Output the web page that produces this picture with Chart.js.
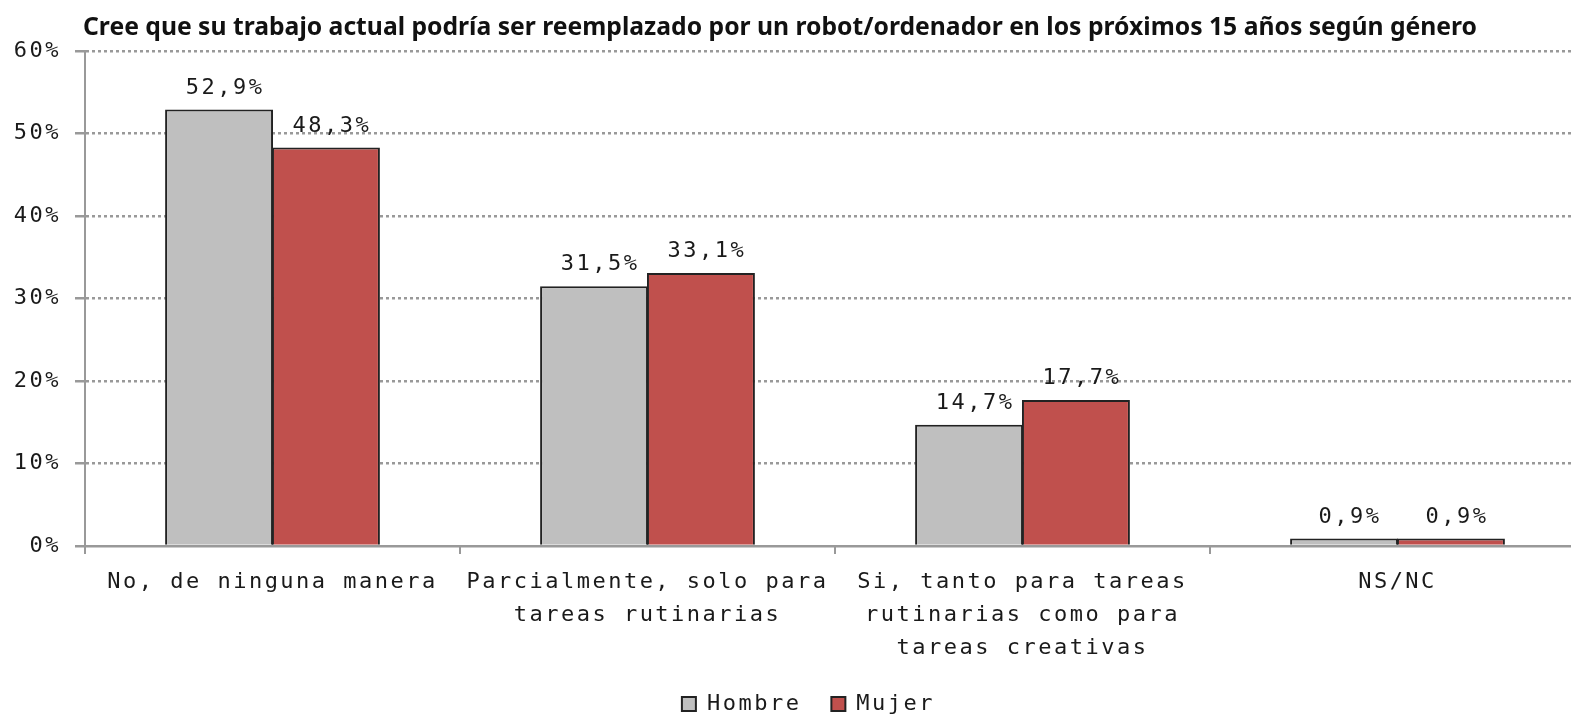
<!DOCTYPE html>
<html>
<head>
<meta charset="utf-8">
<script src="https://cdn.jsdelivr.net/npm/chart.js@4"></script>
<style>
  html, body { margin: 0; padding: 0; background: #fff; overflow: hidden; }
  #wrap { width: 1571px; height: 717px; overflow: hidden; }
</style>
</head>
<body>
<!-- el original esta recortado por la derecha: lienzo mas ancho que la ventana -->
<div id="wrap"><canvas id="grafico" width="1616" height="717"></canvas></div>
<script>
// datos
const titulo = 'Cree que su trabajo actual podría ser reemplazado por un robot/ordenador en los próximos 15 años según género';
const categorias = [
  ['No, de ninguna manera'],
  ['Parcialmente, solo para', 'tareas rutinarias'],
  ['Si, tanto para tareas', 'rutinarias como para', 'tareas creativas'],
  ['NS/NC']
];
const series = ['Hombre', 'Mujer'];
const hombre = [52.9, 31.5, 14.7, 0.9];
const mujer = [48.3, 33.1, 17.7, 0.9];
const ejeMax = 60;
const ejePaso = 10;

const mono = '"DejaVu Sans Mono", monospace';
const espaciado = '2.5px';

// el texto del original va muy espaciado
const espaciar = {
  id: 'espaciar',
  beforeUpdate(chart) { chart.ctx.letterSpacing = espaciado; },
  beforeLayout(chart) { chart.ctx.letterSpacing = espaciado; },
  beforeDraw(chart) { chart.ctx.letterSpacing = espaciado; },
  // la leyenda del original no va centrada en el lienzo
  afterLayout(chart) {
    if (chart.legend) {
      chart.legend.left += 16;
      chart.legend.right += 16;
    }
  }
};

const etiquetas = {
  id: 'etiquetas',
  afterDatasetsDraw(chart) {
    const ctx = chart.ctx;
    ctx.save();
    ctx.font = '22px ' + mono;
    ctx.fillStyle = '#1a1a1a';
    ctx.textAlign = 'center';
    ctx.textBaseline = 'alphabetic';
    chart.data.datasets.forEach((ds, i) => {
      chart.getDatasetMeta(i).data.forEach((bar, j) => {
        const txt = ds.data[j].toFixed(1).replace('.', ',') + '%';
        ctx.fillText(txt, bar.x + 6, bar.y - 16);
      });
    });
    ctx.restore();
  }
};

const tituloPlugin = {
  id: 'titulo',
  afterDraw(chart) {
    const ctx = chart.ctx;
    ctx.save();
    ctx.letterSpacing = '0px';
    ctx.font = 'bold 24.7px "Noto Sans"';
    ctx.fillStyle = '#111';
    ctx.textAlign = 'left';
    ctx.textBaseline = 'alphabetic';
    ctx.fillText(titulo, 83, 35);
    ctx.restore();
  }
};

new Chart(document.getElementById('grafico'), {
  type: 'bar',
  data: {
    labels: categorias,
    datasets: [
      {
        label: series[0],
        data: hombre,
        backgroundColor: '#bfbfbf',
        borderColor: '#222',
        borderWidth: 2,
        categoryPercentage: 0.57,
        barPercentage: 1.01
      },
      {
        label: series[1],
        data: mujer,
        backgroundColor: '#c0504d',
        borderColor: '#222',
        borderWidth: 2,
        categoryPercentage: 0.57,
        barPercentage: 1.01
      }
    ]
  },
  options: {
    responsive: false,
    animation: false,
    layout: { padding: { top: 51, right: 31, left: 0, bottom: -8 } },
    plugins: {
      title: { display: false },
      tooltip: { enabled: false },
      legend: {
        position: 'bottom',
        labels: {
          font: { family: mono, size: 22, lineHeight: 1 },
          color: '#1a1a1a',
          boxWidth: 14,
          boxHeight: 14,
          padding: 30
        }
      }
    },
    scales: {
      x: {
        grid: {
          offset: true,
          drawOnChartArea: false,
          color: '#999',
          lineWidth: 2,
          tickLength: 8
        },
        border: { color: '#999', width: 2 },
        ticks: {
          font: { family: mono, size: 22, lineHeight: 1.5 },
          color: '#1a1a1a',
          padding: 12,
          maxRotation: 0,
          autoSkip: false
        },
        afterFit(scale) { scale.height = 117; }
      },
      y: {
        min: 0,
        max: ejeMax,
        ticks: {
          stepSize: ejePaso,
          font: { family: mono, size: 22 },
          color: '#1a1a1a',
          padding: 14,
          callback: v => v + '%'
        },
        grid: {
          color: '#999',
          lineWidth: 2.5,
          tickLength: 10,
          tickBorderDash: [],
          tickColor: '#999'
        },
        border: {
          color: '#999',
          width: 2,
          dash: ctx => (ctx.tick && ctx.tick.value === 0) ? [] : [3, 3]
        },
        afterFit(scale) { scale.width = 85; }
      }
    }
  },
  plugins: [espaciar, etiquetas, tituloPlugin]
});
</script>
</body>
</html>
